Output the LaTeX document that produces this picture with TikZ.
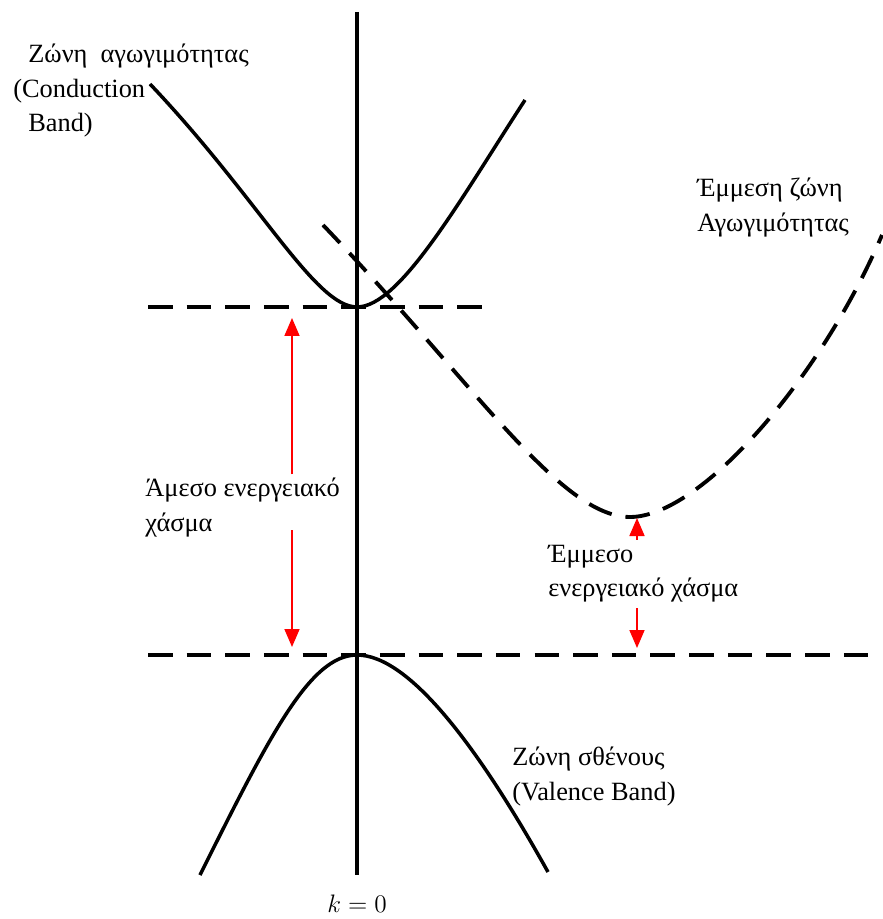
\documentclass[tikz,border=0pt]{standalone}
\usepackage{fontspec}
\setmainfont{Liberation Serif}
\usepackage{tikz}
\usetikzlibrary{arrows.meta, positioning, calc}

\begin{document}
\begin{tikzpicture}[
    x=0.02cm, y=-0.02cm,
    axisline/.style={line width=2.4pt, black},
    band/.style={line width=2pt, black},
    level/.style={line width=2.2pt, black, dash pattern=on 14pt off 8pt},
    gaparr/.style={-{Triangle[length=3.6mm, width=3mm]}, red, line width=1pt},
    lbl/.style={font=\fontsize{15}{19.5}\selectfont, align=left, inner sep=0pt, anchor=north west},
]
\useasboundingbox (0,0) rectangle (882,919);

% k axis
\coordinate (ktop) at (357,12);
\coordinate (kbot) at (357,875);
\draw[axisline] (ktop) -- (kbot);
\node[below=0.4cm of kbot, font=\fontsize{15}{18}\selectfont, inner sep=0pt] (kzero) {$k=0$};

% band edges
\coordinate (ecl) at (148,307);
\coordinate (ecr) at (495,307);
\coordinate (evl) at (148,655);
\coordinate (evr) at (882,655);
\draw[level] (ecl) -- (ecr);
\draw[level] (evl) -- (evr);

% direct conduction band
\coordinate (cbl) at (150,84);
\coordinate (cbmin) at (357,307);
\coordinate (cbr) at (525,100);
\draw[band] (cbl) .. controls (260,200) and (315,307) .. (cbmin)
                  .. controls (400,307) and (460,200) .. (cbr);

% valence band
\coordinate (vbl) at (200,875);
\coordinate (vbmax) at (357,655);
\coordinate (vbr) at (548,872);
\draw[band] (vbl) .. controls (270,735) and (310,655) .. (vbmax)
                  .. controls (410,655) and (480,750) .. (vbr);

% indirect conduction band
\coordinate (icl) at (323,225);
\coordinate (icmin) at (630,517);
\coordinate (icr) at (882,235);
\draw[level] (icl) .. controls (473,382) and (560,517) .. (icmin)
                   .. controls (700,517) and (820,380) .. (icr);

% labels
\node[lbl] (cblbl) at (13,44) {\hspace*{0.3cm}Ζώνη \ αγωγιμότητας\\(Conduction\\\hspace*{0.3cm}Band)};
\node[lbl] (iclbl) at (697,178) {Έμμεση ζώνη\\Αγωγιμότητας};
\node[lbl] (vblbl) at (512,747) {Ζώνη σθένους\\(Valence Band)};
\node[lbl] (dgap) at (145,478) {Άμεσο ενεργειακό\\χάσμα};
\node[lbl] (igap) at (548,545) {Έμμεσο\\ενεργειακό χάσμα};

% gaps
\coordinate (dgt) at (292,318);
\coordinate (dgb) at (292,647);
\coordinate (igt) at (637,518);
\coordinate (igb) at (637,648);
\draw[gaparr] ([yshift=2pt]dgap.north -| dgt) -- (dgt);
\draw[gaparr] ([yshift=4pt]dgap.south -| dgb) -- (dgb);
\draw[gaparr] ([yshift=3pt]igap.north -| igt) -- (igt);
\draw[gaparr] ([yshift=-3pt]igap.south -| igb) -- (igb);
\end{tikzpicture}
\end{document}
